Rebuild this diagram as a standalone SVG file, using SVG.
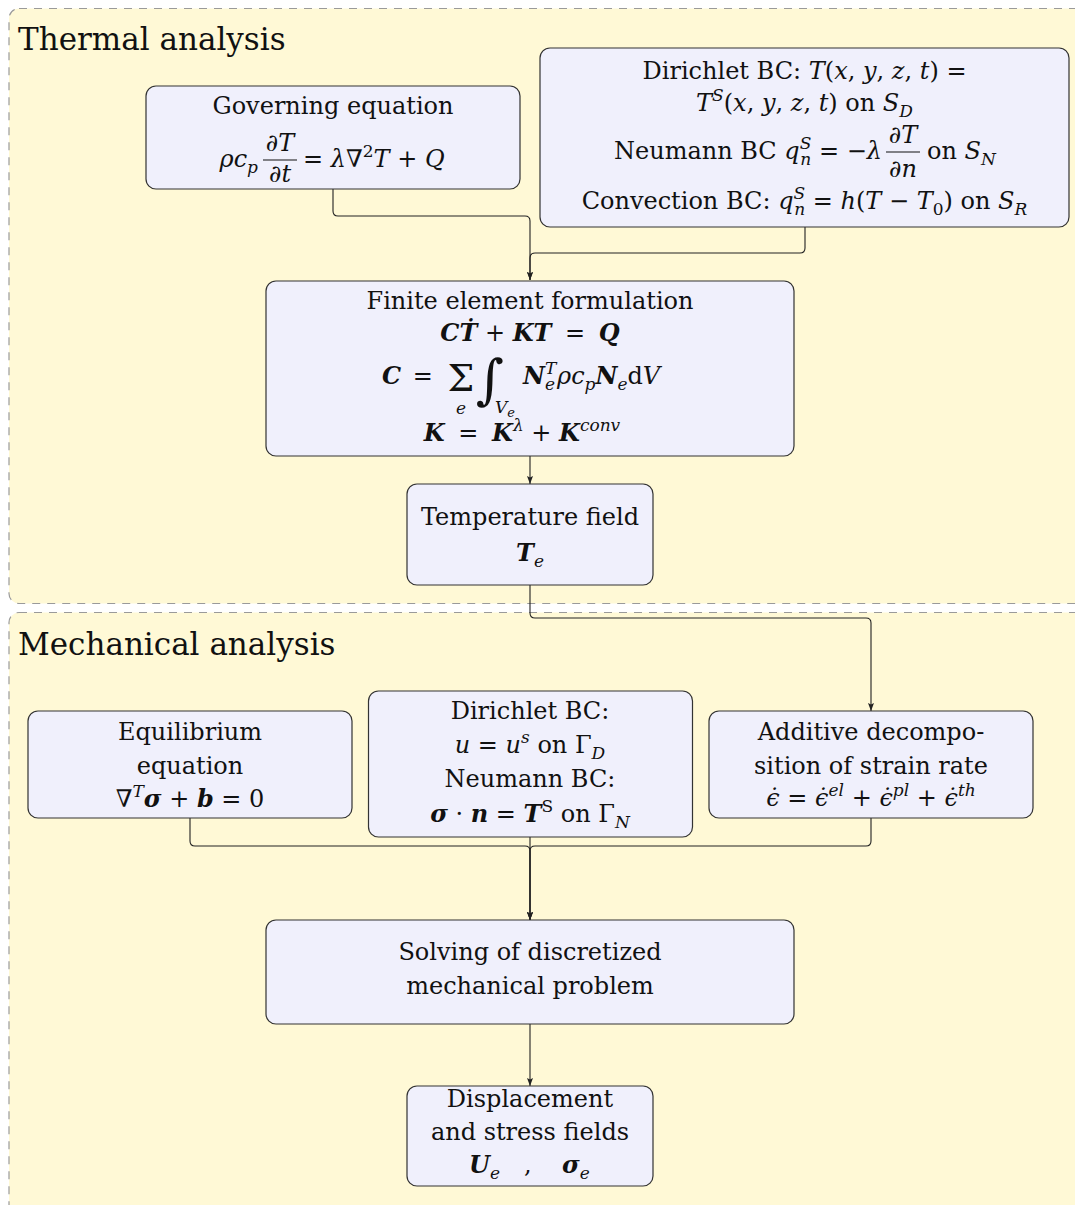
<svg xmlns="http://www.w3.org/2000/svg" width="1075" height="1205" viewBox="0 0 1075 1205">
<defs>
<style>
.region{fill:#fff9d6;stroke:#9a9a9a;stroke-width:1.2;stroke-dasharray:8 7}
.box{fill:#f0f0fc;stroke:#333;stroke-width:1.2}
.t{font-family:"DejaVu Serif",serif;font-size:24px;fill:#111}
.title{font-size:31px}
.c{text-anchor:middle}
.e{text-anchor:end}
.i{font-style:italic}
.b{font-weight:bold;font-style:italic}
.s{font-size:17px}
.ss{font-size:13px}
.conn{fill:none;stroke:#222;stroke-width:1.1}
.bar{stroke:#111;stroke-width:1.1}
</style>
<marker id="arr" markerWidth="10" markerHeight="8" refX="8" refY="3" orient="auto" markerUnits="userSpaceOnUse">
<path d="M0,0 L8,3 L0,6 L1.5,3 z" fill="#222"/>
</marker>
</defs>
<rect width="1075" height="1205" fill="#fff"/>
<g id="regions">
<rect class="region" x="9" y="8.5" width="1085" height="595" rx="10"/>
<text class="t title" x="18" y="50">Thermal analysis</text>
<rect class="region" x="9" y="612.5" width="1085" height="620" rx="10"/>
<text class="t title" x="18" y="655">Mechanical analysis</text>
</g>
<g id="connectors">
<path class="conn" d="M333,189 V211 Q333,216 338,216 H525 Q530,216 530,221 V280" marker-end="url(#arr)"/>
<path class="conn" d="M805,227 V248 Q805,253 800,253 H535 Q530,253 530,258 V280" marker-end="url(#arr)"/>
<path class="conn" d="M530,456 V484" marker-end="url(#arr)"/>
<path class="conn" d="M530,585 V613 Q530,618 535,618 H866 Q871,618 871,623 V711" marker-end="url(#arr)"/>
<path class="conn" d="M190,818 V841 Q190,846 195,846 H525 Q530,846 530,851 V920" marker-end="url(#arr)"/>
<path class="conn" d="M530,837 V920" marker-end="url(#arr)"/>
<path class="conn" d="M871,818 V841 Q871,846 866,846 H535 Q530,846 530,851 V920" marker-end="url(#arr)"/>
<path class="conn" d="M530,1024 V1086" marker-end="url(#arr)"/>
</g>
<g id="governing">
<rect class="box" x="146" y="86" width="374" height="103" rx="10"/>
<text class="t c" x="333" y="113.5">Governing equation</text>
<text class="t e" x="258" y="167"><tspan class="i">ρc</tspan><tspan class="s i" dy="6">p</tspan></text>
<text class="t c i" x="280" y="151">∂T</text>
<line class="bar" x1="263" y1="160" x2="297" y2="160"/>
<text class="t c i" x="280" y="182">∂t</text>
<text class="t" x="303" y="167">= <tspan class="i">λ</tspan>∇<tspan class="s" dy="-10">2</tspan><tspan class="i" dy="10">T</tspan> + <tspan class="i">Q</tspan></text>
</g>
<g id="thermal-bc">
<rect class="box" x="540" y="48" width="529" height="179" rx="10"/>
<text class="t c" x="804.5" y="79">Dirichlet BC: <tspan class="i">T</tspan>(<tspan class="i">x</tspan>, <tspan class="i">y</tspan>, <tspan class="i">z</tspan>, <tspan class="i">t</tspan>)  =</text>
<text class="t c" x="804.5" y="111"><tspan class="i">T</tspan><tspan class="s i" dy="-10">S</tspan><tspan dy="10">(</tspan><tspan class="i">x</tspan>, <tspan class="i">y</tspan>, <tspan class="i">z</tspan>, <tspan class="i">t</tspan>) on <tspan class="i">S</tspan><tspan class="s i" dy="6">D</tspan></text>
<text class="t e" x="882" y="159">Neumann BC <tspan class="i">q</tspan><tspan class="s i" dy="-10">S</tspan><tspan class="s i" dx="-11" dy="16">n</tspan><tspan dy="-6"> = −</tspan><tspan class="i">λ</tspan></text>
<text class="t c i" x="903" y="143">∂T</text>
<line class="bar" x1="886" y1="152" x2="920" y2="152"/>
<text class="t c i" x="903" y="177">∂n</text>
<text class="t" x="927" y="159">on <tspan class="i">S</tspan><tspan class="s i" dy="6">N</tspan></text>
<text class="t c" x="804.5" y="208.5">Convection BC: <tspan class="i">q</tspan><tspan class="s i" dy="-10">S</tspan><tspan class="s i" dx="-11" dy="16">n</tspan><tspan dy="-6"> = </tspan><tspan class="i">h</tspan>(<tspan class="i">T</tspan> − <tspan class="i">T</tspan><tspan class="s" dy="6">0</tspan><tspan dy="-6">) on </tspan><tspan class="i">S</tspan><tspan class="s i" dy="6">R</tspan></text>
</g>
<g id="fe-formulation">
<rect class="box" x="266" y="281" width="528" height="175" rx="10"/>
<text class="t c" x="530" y="309">Finite element formulation</text>
<text class="t c" x="530" y="341"><tspan class="b">CṪ</tspan> + <tspan class="b">KT</tspan><tspan dx="6"> = </tspan><tspan class="b" dx="6">Q</tspan></text>
<text class="t" x="382" y="384"><tspan class="b">C</tspan><tspan dx="4"> =</tspan></text>
<text class="t c" x="461" y="391" style="font-size:38px">Σ</text>
<text class="t c i s" x="461" y="414">e</text>
<text class="t" x="476" y="398" style="font-size:54px">∫</text>
<text class="t i s" x="495" y="413">V<tspan class="ss" dy="4">e</tspan></text>
<text class="t" x="523" y="384"><tspan class="b">N</tspan><tspan class="s i" dy="-10">T</tspan><tspan class="s i" dx="-10" dy="16">e</tspan><tspan class="i" dy="-6" dx="2">ρc</tspan><tspan class="s i" dy="6">p</tspan><tspan class="b" dy="-6">N</tspan><tspan class="s i" dy="6">e</tspan><tspan dy="-6">d</tspan><tspan class="i">V</tspan></text>
<text class="t c" x="522" y="441"><tspan class="b">K</tspan><tspan dx="6"> = </tspan><tspan class="b" dx="6">K</tspan><tspan class="s i" dy="-10">λ</tspan><tspan dy="10"> + </tspan><tspan class="b">K</tspan><tspan class="s i" dy="-10">conv</tspan></text>
</g>
<g id="temperature-field">
<rect class="box" x="407" y="484" width="246" height="101" rx="10"/>
<text class="t c" x="530" y="525">Temperature field</text>
<text class="t c" x="530" y="561"><tspan class="b">T</tspan><tspan class="s i" dy="6">e</tspan></text>
</g>
<g id="equilibrium">
<rect class="box" x="28" y="711" width="324" height="107" rx="10"/>
<text class="t c" x="190" y="740">Equilibrium</text>
<text class="t c" x="190" y="774">equation</text>
<text class="t c" x="190" y="807">∇<tspan class="s i" dy="-10">T</tspan><tspan class="b" dy="10">σ</tspan> + <tspan class="b">b</tspan>  =  0</text>
</g>
<g id="mechanical-bc">
<rect class="box" x="368.5" y="691" width="324" height="146" rx="10"/>
<text class="t c" x="530" y="719">Dirichlet BC:</text>
<text class="t c" x="530" y="753"><tspan class="i">u</tspan> = <tspan class="i">u</tspan><tspan class="s i" dy="-10">s</tspan><tspan dy="10"> on Γ</tspan><tspan class="s i" dy="6">D</tspan></text>
<text class="t c" x="530" y="787">Neumann BC:</text>
<text class="t c" x="530" y="822"><tspan class="b">σ</tspan> · <tspan class="b">n</tspan> = <tspan class="b">T</tspan><tspan class="s" dy="-10">S</tspan><tspan dy="10"> on Γ</tspan><tspan class="s i" dy="6">N</tspan></text>
</g>
<g id="additive-decomposition">
<rect class="box" x="709" y="711" width="324" height="107" rx="10"/>
<text class="t c" x="871" y="740">Additive decompo-</text>
<text class="t c" x="871" y="774">sition of strain rate</text>
<text class="t c" x="871" y="806"><tspan class="i">ϵ̇</tspan> = <tspan class="i">ϵ̇</tspan><tspan class="s i" dy="-10">el</tspan><tspan dy="10"> + </tspan><tspan class="i">ϵ̇</tspan><tspan class="s i" dy="-10">pl</tspan><tspan dy="10"> + </tspan><tspan class="i">ϵ̇</tspan><tspan class="s i" dy="-10">th</tspan></text>
</g>
<g id="solving">
<rect class="box" x="266" y="920" width="528" height="104" rx="10"/>
<text class="t c" x="530" y="960">Solving of discretized</text>
<text class="t c" x="530" y="994">mechanical problem</text>
</g>
<g id="displacement-stress">
<rect class="box" x="407" y="1086" width="246" height="100" rx="10"/>
<text class="t c" x="530" y="1107">Displacement</text>
<text class="t c" x="530" y="1140">and stress fields</text>
<text class="t" x="469" y="1173"><tspan class="b">U</tspan><tspan class="s i" dy="6">e</tspan></text>
<text class="t" x="524" y="1173">,</text>
<text class="t" x="562" y="1173"><tspan class="b">σ</tspan><tspan class="s i" dy="6">e</tspan></text>
</g>
</svg>
